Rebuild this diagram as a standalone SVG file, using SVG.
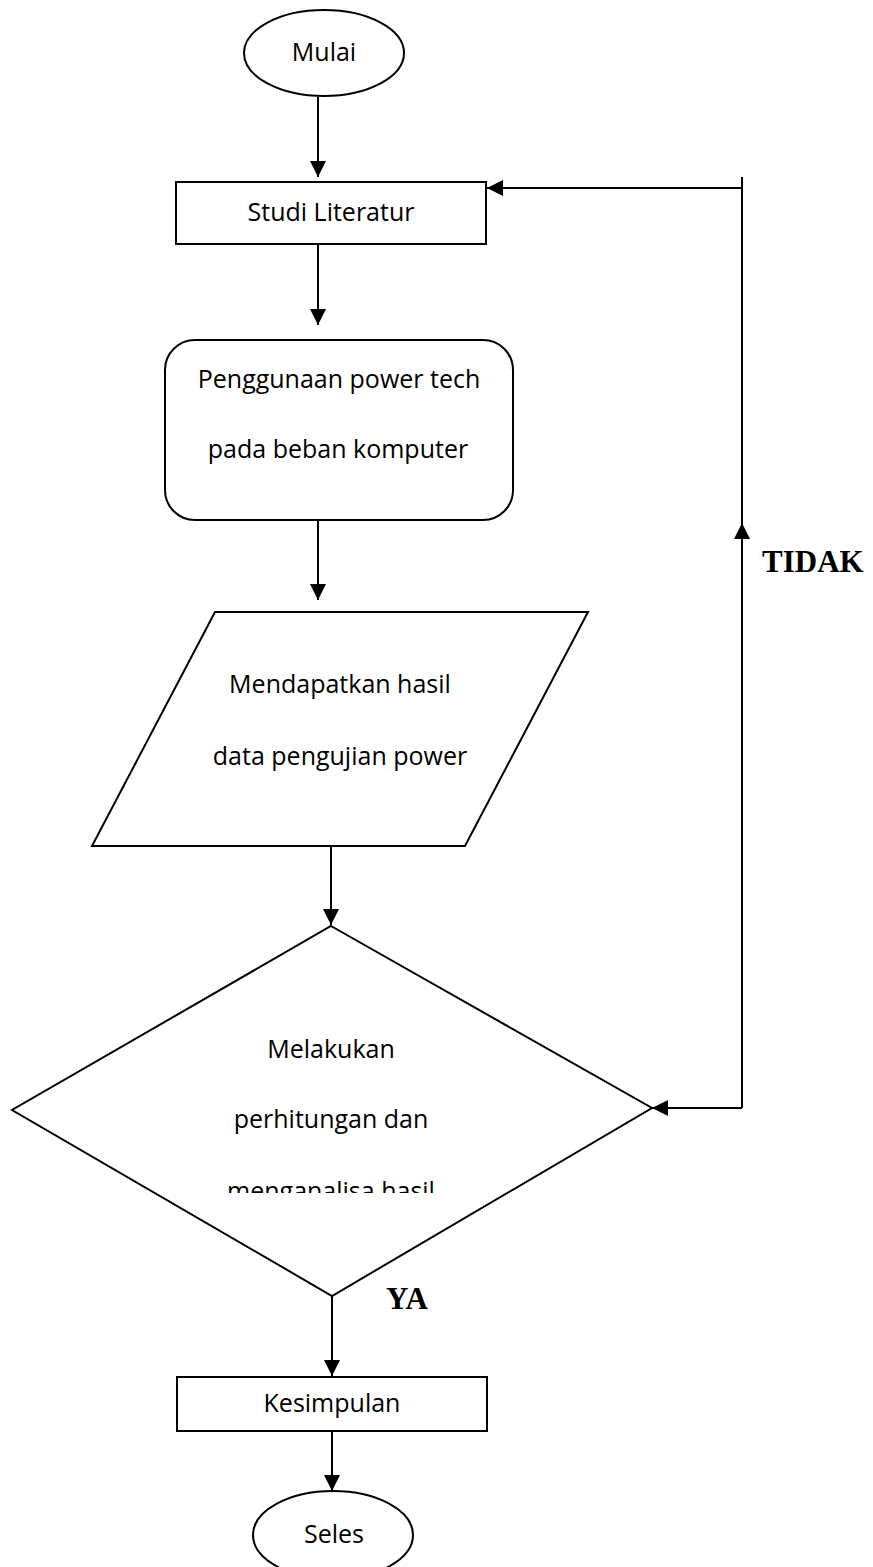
<svg xmlns="http://www.w3.org/2000/svg" width="873" height="1567" viewBox="0 0 873 1567">
<style>
.s{fill:#fff;stroke:#000;stroke-width:2}
.t{font-family:"Open Sans","Noto Sans",sans-serif;font-size:25px;fill:#000;text-anchor:middle}
.b{font-family:"Liberation Serif","Times New Roman",serif;font-size:31px;font-weight:bold;fill:#000}
.c{fill:none;stroke:#000;stroke-width:2}
</style>
<defs>
<marker id="ah" markerWidth="16" markerHeight="16" viewBox="0 0 16 16" refX="16" refY="8" orient="auto" markerUnits="userSpaceOnUse">
<path d="M0,0 L16,8 L0,16 Z" fill="#000"/>
</marker>
<clipPath id="dclip"><rect x="0" y="900" width="873" height="293"/></clipPath>
</defs>
<rect width="873" height="1567" fill="#fff"/>
<g id="connectors">
<line class="c" x1="318" y1="97" x2="318" y2="177" marker-end="url(#ah)"/>
<line class="c" x1="318" y1="244" x2="318" y2="325" marker-end="url(#ah)"/>
<line class="c" x1="318" y1="520" x2="318" y2="600" marker-end="url(#ah)"/>
<line class="c" x1="331" y1="846" x2="331" y2="925" marker-end="url(#ah)"/>
<line class="c" x1="332" y1="1296" x2="332" y2="1376" marker-end="url(#ah)"/>
<line class="c" x1="332" y1="1431" x2="332" y2="1491" marker-end="url(#ah)"/>
<line class="c" x1="742" y1="1108" x2="652" y2="1108" marker-end="url(#ah)"/>
<line class="c" x1="742" y1="1108" x2="742" y2="177"/>
<path d="M742,523 L734,539 L750,539 Z" fill="#000"/>
<line class="c" x1="742" y1="188" x2="487" y2="188" marker-end="url(#ah)"/>
<text class="b" x="762" y="572">TIDAK</text>
<text class="b" x="386" y="1309">YA</text>
</g>
<g id="mulai">
<ellipse class="s" cx="324" cy="53" rx="80" ry="43"/>
<text class="t" x="324" y="61">Mulai</text>
</g>
<g id="studi">
<rect class="s" x="176" y="182" width="310" height="62"/>
<text class="t" x="331" y="221">Studi Literatur</text>
</g>
<g id="penggunaan">
<rect class="s" x="165" y="340" width="348" height="180" rx="30" ry="30"/>
<text class="t" x="339" y="388">Penggunaan power tech</text>
<text class="t" x="338" y="458">pada beban komputer</text>
</g>
<g id="mendapatkan">
<polygon class="s" points="215,612 588,612 465,846 92,846"/>
<text class="t" x="340" y="693">Mendapatkan hasil</text>
<text class="t" x="340" y="765">data pengujian power</text>
</g>
<g id="keputusan">
<polygon class="s" points="331,926 652,1108 332,1296 12,1110"/>
<text class="t" x="331" y="1058">Melakukan</text>
<text class="t" x="331" y="1128">perhitungan dan</text>
<text class="t" x="331" y="1200" clip-path="url(#dclip)">menganalisa hasil</text>
</g>
<g id="kesimpulan">
<rect class="s" x="177" y="1377" width="310" height="54"/>
<text class="t" x="332" y="1412">Kesimpulan</text>
</g>
<g id="seles">
<ellipse class="s" cx="333" cy="1535" rx="80" ry="44"/>
<text class="t" x="334" y="1543">Seles</text>
</g>
</svg>
